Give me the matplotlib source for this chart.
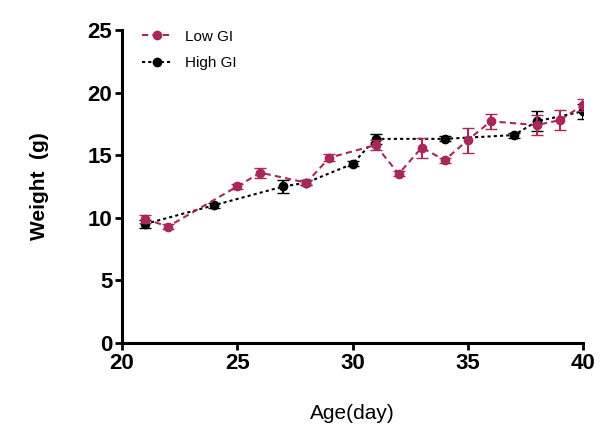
import numpy as np
import matplotlib.pyplot as plt

# data
low_days = [21, 22, 25, 26, 28, 29, 31, 32, 33, 34, 35, 36, 38, 39, 40]
low_weight = [9.9, 9.3, 12.5, 13.6, 12.8, 14.8, 15.8, 13.5, 15.6, 14.6, 16.2, 17.7, 17.4, 17.8, 19.0]
low_err = [0.3, 0.2, 0.2, 0.4, 0.2, 0.3, 0.4, 0.2, 0.8, 0.2, 1.0, 0.6, 0.8, 0.8, 0.5]

high_days = [21, 24, 27, 28, 30, 31, 34, 37, 38, 40]
high_weight = [9.5, 11.0, 12.5, 12.8, 14.3, 16.3, 16.3, 16.6, 17.7, 18.5]
high_err = [0.3, 0.2, 0.5, 0.2, 0.2, 0.4, 0.2, 0.2, 0.8, 0.6]

low_color = '#a8285a'

plt.rcParams['font.family'] = ['Liberation Sans', 'DejaVu Sans']
fig = plt.figure(figsize=(6.05, 4.4), dpi=100)
ax = fig.add_axes([0.2017, 0.2205, 0.7619, 0.7115])

c_low = ax.errorbar(low_days, low_weight, yerr=low_err, color=low_color, ecolor=low_color,
                    linestyle=(0, (3, 2)), linewidth=1.5, marker='o', markersize=6,
                    capsize=4, elinewidth=1.5, label='Low GI', zorder=3)
c_high = ax.errorbar(high_days, high_weight, yerr=high_err, color='black', ecolor='black',
                     linestyle=(0, (1.5, 1.5)), linewidth=1.5, marker='o', markersize=6,
                     capsize=4, elinewidth=1.5, label='High GI', zorder=2)

ax.set_xlim(20, 40)
ax.set_ylim(0, 25)
ax.set_xticks([20, 25, 30, 35, 40])
ax.set_yticks([0, 5, 10, 15, 20, 25])
for sp in ['top', 'right']:
  ax.spines[sp].set_visible(False)
for sp in ['left', 'bottom']:
  ax.spines[sp].set_linewidth(2.2)
ax.tick_params(width=2, length=5, labelsize=16, pad=2)
for lab in ax.get_xticklabels() + ax.get_yticklabels():
  lab.set_fontweight('bold')

ax.set_xlabel('Age(day)', fontsize=15, labelpad=22)
ax.set_ylabel('Weight  (g)', fontsize=15, fontweight='bold', labelpad=28)

# legend with line+marker only (no error bar glyph)
leg = ax.legend(handles=[c_low[0], c_high[0]], labels=['Low GI', 'High GI'],
                loc='upper left', bbox_to_anchor=(0.02, 1.035), frameon=False,
                fontsize=11, handlelength=2.0, borderaxespad=0.3, labelspacing=0.8)

fig.savefig('out.png', dpi=100)
